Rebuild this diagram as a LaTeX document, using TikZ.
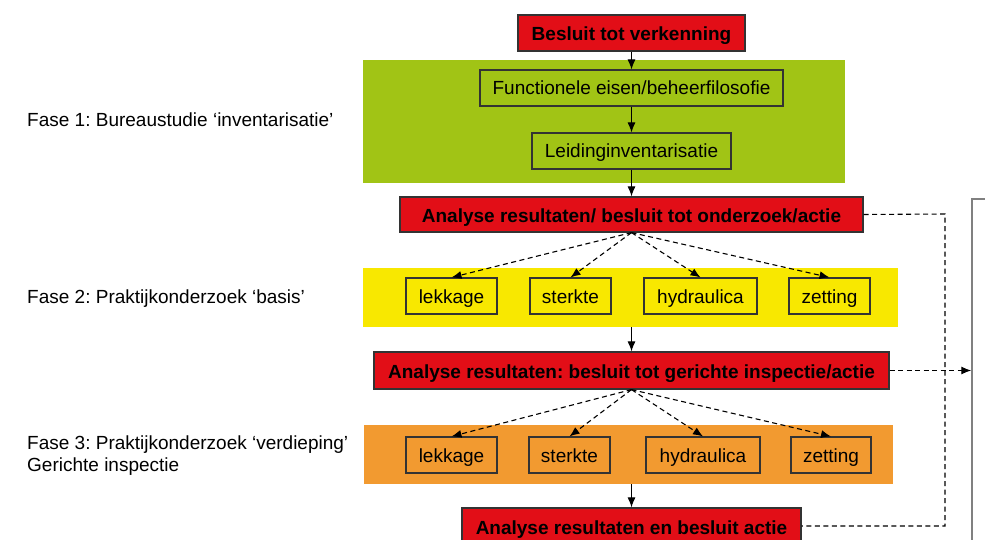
\documentclass[tikz,border=0pt]{standalone}
\usepackage{fontspec}
\setmainfont{Liberation Sans}
\usepackage{xcolor}
\usepackage{tikz}
\usetikzlibrary{arrows.meta,positioning}
\definecolor{besluitred}{HTML}{E20E17}
\definecolor{fasegreen}{HTML}{A1C415}
\definecolor{faseyellow}{HTML}{F8E800}
\definecolor{faseorange}{HTML}{F29A30}
\definecolor{randgray}{HTML}{333333}
\frenchspacing

\begin{document}
\begin{tikzpicture}[x=1pt,y=-1pt,
  besluit/.style={draw=randgray, fill=besluitred, line width=1.2pt, inner sep=0pt,
    minimum height=36pt, text height=17pt, text depth=1pt,
    font=\bfseries\fontsize{19}{22}\selectfont},
  stap/.style={draw=randgray, line width=1.1pt, inner sep=0pt,
    minimum height=36pt, text height=16pt, text depth=2pt,
    font=\fontsize{19}{22}\selectfont},
  band/.style={fill=#1, inner sep=0pt},
  fase/.style={anchor=west, align=left, inner sep=0pt, font=\fontsize{19}{22}\selectfont},
  pijl/.style={-{Latex[length=10pt,width=8pt]}, line width=1.1pt},
  stippel/.style={line width=1.1pt, dash pattern=on 5pt off 3.5pt}]
\clip (0,0) rectangle (985,540);
% fase banden
\node[band=fasegreen, minimum width=482pt, minimum height=123pt] (groen) at (604,121.5) {};
\node[band=faseyellow, minimum width=535pt, minimum height=59pt] (geel) at (630.5,297.5) {};
\node[band=faseorange, minimum width=529pt, minimum height=59pt] (oranje) at (628.5,454.5) {};

\node[fase] (fase1) at (27,120) {Fase 1: Bureaustudie ‘inventarisatie’};
\node[fase] (fase2) at (27,299) {Fase 2: Praktijkonderzoek ‘basis’};
\node[fase] (fase3) at (27,456) {Fase 3: Praktijkonderzoek ‘verdieping’\\Gerichte inspectie};

\node[besluit, minimum width=227pt] (verkenning) at (631.5,33) {Besluit tot verkenning};
\node[stap, minimum width=303pt] (eisen) at (631.5,88) {Functionele eisen/beheerfilosofie};
\node[stap, minimum width=199pt] (leiding) at (631.5,151) {Leidinginventarisatie};
\node[besluit, minimum width=463pt, minimum height=35pt] (analyse1) at (631.5,214.5) {Analyse resultaten/ besluit tot onderzoek/actie};
\node[besluit, minimum width=515pt, minimum height=37pt] (analyse2) at (631.5,370.5) {Analyse resultaten: besluit tot gerichte inspectie/actie};
\node[besluit, minimum width=339pt] (analyse3) at (631.5,526) {Analyse resultaten en besluit actie};
\node[draw=gray, line width=1.5pt, minimum width=40pt, minimum height=361pt, inner sep=0pt] (rechts) at (992,379.5) {};
\coordinate (omweg) at (945,214);

\draw[pijl] (verkenning) -- (eisen);
\draw[pijl] (eisen) -- (leiding);
\draw[pijl] (leiding) -- (analyse1);
\draw[pijl] (geel.south -| analyse2.north) -- (analyse2);
\draw[pijl] (oranje.south -| analyse3.north) -- (analyse3);

% basis
\foreach \naam/\tekst/\x/\w in {lek/lekkage/451.5/91, sterk/sterkte/570.5/81,
    hydr/hydraulica/700.5/113, zet/zetting/829.5/81}{
  \node[stap, fill=faseyellow, minimum width=\w pt] (b\naam) at (\x,296) {\tekst};
  \draw[pijl, stippel] (analyse1.south) -- (b\naam.north);
}
% verdieping
\foreach \naam/\tekst/\x/\w in {lek/lekkage/451.5/91, sterk/sterkte/569.5/81,
    hydr/hydraulica/703/114, zet/zetting/831/80}{
  \node[stap, fill=faseorange, minimum width=\w pt] (v\naam) at (\x,455) {\tekst};
  \draw[pijl, stippel] (analyse2.south) -- (v\naam.north);
}

\draw[stippel] (analyse1.east) -- (omweg) -- (omweg |- analyse3.east) -- (analyse3.east);
\draw[pijl, stippel] (analyse2.east) -- (analyse2.east -| rechts.west);
\end{tikzpicture}
\end{document}
